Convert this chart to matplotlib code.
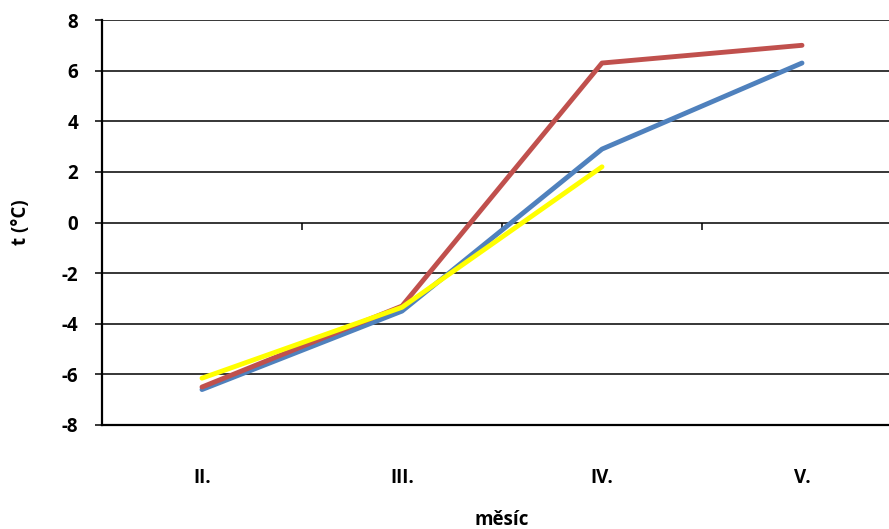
import numpy as np
import matplotlib.pyplot as plt

# data
mesice = ["II.", "III.", "IV.", "V."]
rada_cervena = [-6.5, -3.3, 6.3, 7.0]
rada_modra = [-6.6, -3.5, 2.9, 6.3]
rada_zluta = [-6.15, -3.35, 2.2]

plt.rcParams["font.family"] = ["Open Sans", "DejaVu Sans"]
plt.rcParams["font.weight"] = "bold"
plt.rcParams["axes.unicode_minus"] = False

fig = plt.figure(figsize=(8.89, 5.29), dpi=100)
ax = fig.add_axes([102 / 889, 104 / 529, 800 / 889, 405 / 529])

x = np.arange(len(mesice)) + 0.5
ax.plot(x, rada_modra, color="#4F81BD", lw=3.5, zorder=3, solid_capstyle="round")
ax.plot(x, rada_cervena, color="#C0504D", lw=3.5, zorder=4, solid_capstyle="round")
ax.plot(x[:len(rada_zluta)], rada_zluta, color="#FFFF00", lw=3.5, zorder=5,
        solid_capstyle="round")

ax.set_xlim(0, len(mesice))
ax.set_ylim(-8, 8)
ax.set_yticks(np.arange(-8, 9, 2))
ax.set_xticks(x)
ax.set_xticklabels(mesice)

# horizontal grid
for v in np.arange(-6, 9, 2):
    ax.axhline(v, color="black", lw=1.1, zorder=1)
# category ticks on the zero line
ax.vlines(np.arange(1, len(mesice)), -0.3, 0, color="black", lw=1.1, zorder=1)

for s in ["top", "right"]:
    ax.spines[s].set_visible(False)
ax.spines["left"].set_linewidth(1.6)
ax.spines["bottom"].set_linewidth(1.6)

ax.tick_params(axis="y", direction="out", length=5, width=1.1, pad=12, labelsize=13.5)
ax.tick_params(axis="x", length=0, pad=31, labelsize=13.5)

ax.set_ylabel("t (°C)", fontsize=13.5, fontweight="bold", labelpad=22)
ax.set_xlabel("měsíc", fontsize=13.5, fontweight="bold", va="baseline")
ax.xaxis.set_label_coords(0.5, -100 / 405)

fig.savefig("out.png", dpi=100)
